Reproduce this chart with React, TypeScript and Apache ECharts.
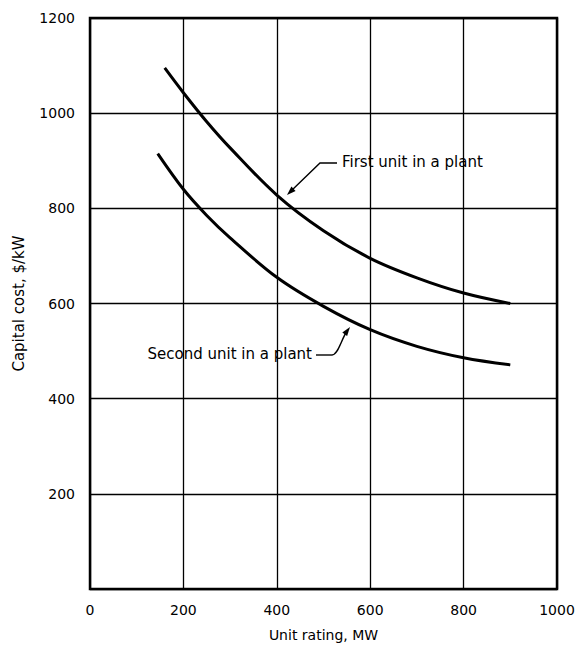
import React, { useEffect, useRef } from "react";
import * as echarts from "echarts";

const xTicks = [0, 200, 400, 600, 800, 1000];
const yTicks = [0, 200, 400, 600, 800, 1000, 1200];
const firstUnitMW = [160, 200, 250, 300, 400, 500, 600, 700, 800, 900];
const firstUnitCost = [1095, 1043, 982, 927, 828, 753, 695, 654, 622, 600];
const secondUnitMW = [145, 200, 250, 300, 400, 500, 600, 700, 800, 900];
const secondUnitCost = [915, 840, 785, 738, 655, 594, 545, 510, 486, 471];

const FONT = "DejaVu Sans";

export default function App() {
  const ref = useRef<HTMLDivElement>(null);
  useEffect(() => {
    if (!ref.current) return;
    const chart = echarts.init(ref.current, null, { renderer: "svg" });
    const lineStyle = { color: "#000", width: 3 };
    chart.setOption({
      animation: false,
      backgroundColor: "#fff",
      grid: {
        left: 90,
        right: 24,
        top: 18,
        bottom: 54,
        show: true,
        borderColor: "#000",
        borderWidth: 2.5,
        backgroundColor: "transparent",
      },
      xAxis: {
        type: "value",
        min: xTicks[0],
        max: xTicks[xTicks.length - 1],
        interval: 200,
        name: "Unit rating, MW",
        nameLocation: "middle",
        nameGap: 39,
        nameTextStyle: { fontFamily: FONT, fontSize: 14, color: "#000" },
        axisLine: { show: false },
        axisTick: { show: false },
        axisLabel: {
          fontFamily: FONT,
          fontSize: 14,
          color: "#000",
          margin: 14,
          formatter: (v: number) => String(v),
        },
        splitLine: { show: true, lineStyle: { color: "#000", width: 1.3 } },
      },
      yAxis: {
        type: "value",
        min: yTicks[0],
        max: yTicks[yTicks.length - 1],
        interval: 200,
        name: "Capital cost, $/kW",
        nameLocation: "middle",
        nameRotate: 90,
        nameGap: 64,
        nameTextStyle: { fontFamily: FONT, fontSize: 15, color: "#000" },
        axisLine: { show: false },
        axisTick: { show: false },
        axisLabel: {
          fontFamily: FONT,
          fontSize: 14,
          color: "#000",
          margin: 15,
          formatter: (v: number) => (v === 0 ? "" : String(v)),
        },
        splitLine: { show: true, lineStyle: { color: "#000", width: 1.3 } },
      },
      series: [
        {
          name: "First unit in a plant",
          type: "line",
          smooth: 0.35,
          showSymbol: false,
          lineStyle,
          data: firstUnitMW.map((x, i) => [x, firstUnitCost[i]]),
        },
        {
          name: "Second unit in a plant",
          type: "line",
          smooth: 0.35,
          showSymbol: false,
          lineStyle,
          data: secondUnitMW.map((x, i) => [x, secondUnitCost[i]]),
        },
      ],
      graphic: [
        {
          type: "text",
          left: 342,
          top: 154,
          style: { text: "First unit in a plant", font: `15px "${FONT}"`, fill: "#000" },
        },
        {
          type: "polyline",
          shape: { points: [[337, 163], [320, 163], [291, 191]] },
          style: { stroke: "#000", lineWidth: 1.4, fill: "none" },
        },
        {
          type: "polygon",
          shape: { points: [[287, 195], [295.6, 190.9], [291.4, 186.6]] },
          style: { fill: "#000" },
        },
        {
          type: "text",
          right: 581 - 312,
          top: 346,
          style: { text: "Second unit in a plant", font: `15px "${FONT}"`, fill: "#000" },
        },
        {
          type: "line",
          shape: { x1: 316, y1: 355, x2: 332, y2: 355 },
          style: { stroke: "#000", lineWidth: 1.4 },
        },
        {
          type: "bezierCurve",
          shape: { x1: 332, y1: 355, cpx1: 338, cpy1: 355, cpx2: 341, cpy2: 340, x2: 347, y2: 331 },
          style: { stroke: "#000", lineWidth: 1.4, fill: "none" },
        },
        {
          type: "polygon",
          shape: { points: [[350, 327], [347.1, 336.1], [342.3, 332.5]] },
          style: { fill: "#000" },
        },
      ],
    });
    return () => chart.dispose();
  }, []);
  return (
    <div
      ref={ref}
      style={{ position: "fixed", left: 0, top: 0, width: 581, height: 647, background: "#fff" }}
    />
  );
}
